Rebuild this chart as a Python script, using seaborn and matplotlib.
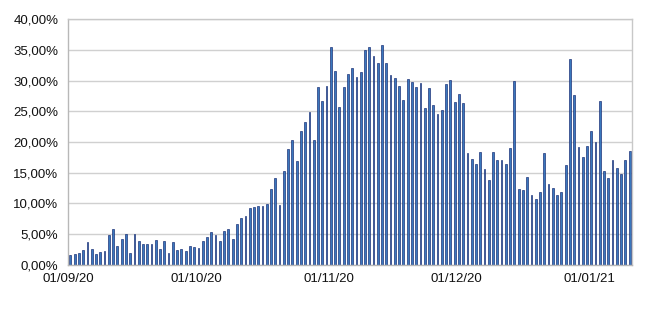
import matplotlib
matplotlib.use("Agg")
import matplotlib.pyplot as plt
import seaborn as sns
import pandas as pd
import numpy as np

# Daily values (percent) from 01/09/20 to 10/01/21
sept = [1.57, 1.84, 2.0, 2.38, 3.74, 2.55, 1.79, 2.06, 2.33, 4.88,
        5.85, 3.09, 4.28, 4.99, 1.9, 4.99, 3.85, 3.36, 3.4, 3.36,
        4.07, 2.66, 3.9, 1.9, 3.75, 2.47, 2.68, 2.33, 3.06, 2.98]
octo = [2.71, 3.95, 4.55, 5.31, 4.93, 3.9, 5.53, 5.8, 4.17, 6.61,
        7.59, 7.91, 9.21, 9.4, 9.59, 9.59, 9.92, 12.3, 14.09, 9.81,
        15.23, 18.86, 20.38, 16.96, 21.84, 23.25, 24.93, 20.33, 29.0, 26.67,
        29.16]
nov = [35.39, 31.6, 25.75, 28.89, 31.11, 31.98, 30.52, 31.44, 35.01, 35.45,
       34.04, 32.79, 35.77, 32.9, 30.95, 30.46, 29.11, 26.83, 30.24, 29.81,
       28.89, 29.54, 25.5, 28.83, 26.07, 24.58, 25.13, 29.46, 30.05, 26.45]
dec = [27.8, 26.34, 18.21, 17.29, 16.42, 18.32, 15.56, 13.82, 18.43, 17.13,
       17.02, 16.42, 19.08, 29.97, 12.3, 12.2, 14.25, 11.33, 10.73, 11.92,
       18.27, 13.23, 12.47, 11.44, 11.92, 16.26, 33.5, 27.64, 19.13, 17.51,
       19.3]
jan = [21.84, 20.05, 26.61, 15.28, 14.09, 17.02, 15.83, 14.74, 17.13, 18.48]

values = sept + octo + nov + dec + jan
dates = pd.date_range("2020-09-01", periods=len(values), freq="D")
tick_labels = ["01/09/20", "01/10/20", "01/11/20", "01/12/20", "01/01/21"]
tick_dates = pd.to_datetime(["2020-09-01", "2020-10-01", "2020-11-01",
                             "2020-12-01", "2021-01-01"])

df = pd.DataFrame({"day": np.arange(len(values)), "value": values})

sns.set_theme(style="white")
plt.rcParams['font.family'] = ['Liberation Sans', 'DejaVu Sans']

fig = plt.figure(figsize=(6.5, 3.09), dpi=100)
ax = fig.add_axes([0.105, 0.1424, 0.867, 0.7961])

sns.barplot(data=df, x="day", y="value", color="#3a78bd", width=0.42,
            edgecolor="#10246e", linewidth=0.45, saturation=1, ax=ax,
            native_scale=False)

ax.set_xlim(-0.5, len(values) - 0.5)
ax.set_ylim(0, 40)
ax.set_yticks(np.arange(0, 41, 5))
ax.set_yticklabels([f"{v:.2f}%".replace(".", ",") for v in np.arange(0, 41, 5)])
pos = [(d - dates[0]).days - 0.5 for d in tick_dates]
ax.set_xticks(pos)
ax.set_xticklabels(tick_labels)
ax.set_xlabel("")
ax.set_ylabel("")

ax.yaxis.grid(True, color="#d0d0d0", linewidth=1)
ax.set_axisbelow(True)
for s in ax.spines.values():
    s.set_color("#c8c8c8")
    s.set_linewidth(1)
ax.spines["left"].set_color("#b8b8b8")
ax.spines["bottom"].set_color("#b8b8b8")

ax.tick_params(axis="y", length=0, pad=7, labelsize=9.5, labelcolor="#111111")
ax.tick_params(axis="x", length=3, width=1, color="#b8b8b8", direction="out",
               pad=3, labelsize=9.5, labelcolor="#111111")

fig.savefig("out.png", dpi=100)
